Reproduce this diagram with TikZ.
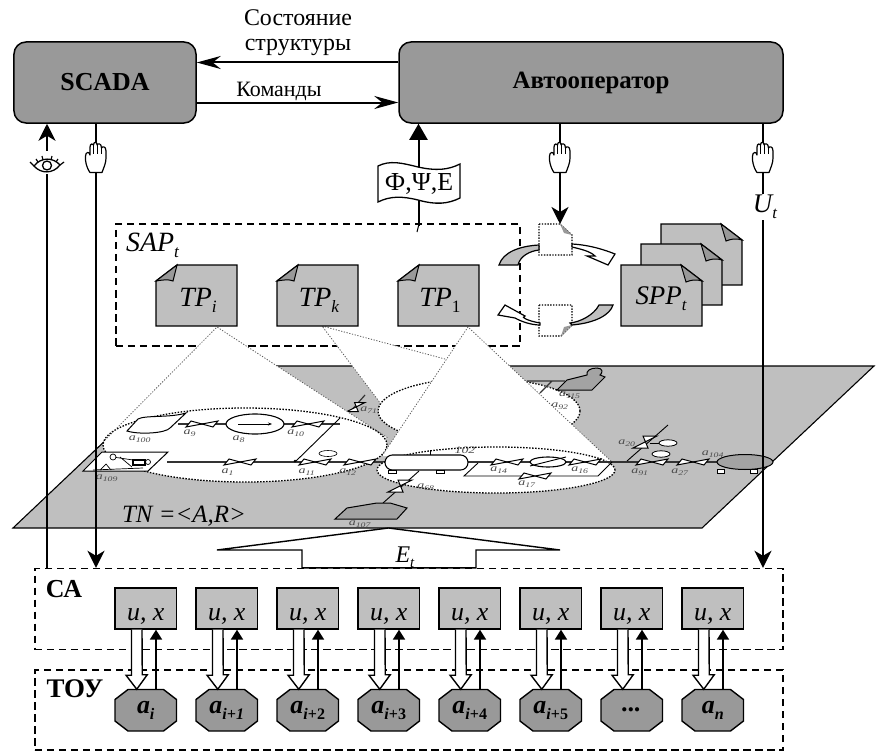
\documentclass[tikz,border=0pt]{standalone}
\usepackage{fontspec}
\setmainfont{Liberation Serif}
\usetikzlibrary{arrows.meta,calc}
\definecolor{boxgray}{gray}{0.6}
\definecolor{lightbox}{gray}{0.75}
\definecolor{tankgray}{gray}{0.64}
\newcommand\fs[1]{\fontsize{#1}{#1}\selectfont}
\newcommand\sbs[2]{#1\raisebox{-.22em}{\scalebox{0.62}{#2}}}
\newcommand\tl[1]{\scalebox{1.4}[1]{a\textsubscript{#1}}}
\tikzset{
 mainbox/.style={draw,line width=1.5bp,fill=boxgray,rounded corners=12bp,inner sep=0pt,font=\fs{25}\bfseries},
 dashbox/.style={draw,line width=1.4bp,dash pattern=on 7.5bp off 4.5bp,inner sep=0pt},
 wire/.style={line width=2bp},
 barb/.style={wire,-{Stealth[length=24bp,width=13bp,inset=8bp]}},
 solidhead/.style={wire,-{Stealth[length=17bp,width=17bp,inset=5bp]}},
 trihead/.style={wire,-{Triangle[length=16bp,width=18bp]}},
 smallhead/.style={wire,-{Triangle[length=10bp,width=12bp]}},
 hollow/.style={line width=1.4bp,fill=white,line join=miter},
 docshape/.style={draw,line width=1.4bp,fill=lightbox,line join=miter},
 foldshape/.style={draw,line width=1bp,fill=boxgray},
 ioshape/.style={draw,line width=1.4bp,fill=lightbox,inner sep=0pt,minimum width=61.5bp,minimum height=41bp},
 octlabel/.style={inner sep=0pt,minimum width=61.5bp,minimum height=41.5bp,font=\fs{26}\bfseries\itshape},
 octline/.style={line width=1.4bp,fill=boxgray,line join=miter},
 conedot/.style={line width=.8bp,draw=black!65,dash pattern=on 1.2bp off 1.6bp},
 elldot/.style={line width=1.3bp,dash pattern=on 1.5bp off 1.5bp,fill=white},
 docdot/.style={line width=1.1bp,dash pattern=on 1.4bp off 1.4bp},
 pipe/.style={line width=1.2bp,black!80},
 tank/.style={draw,line width=1bp,fill=tankgray},
 tinylab/.style={inner sep=0pt,font=\fs{10}\itshape,text=black!70},
 itlab/.style={inner sep=0pt,font=\fs{28}\itshape},
 handpic/.pic={
  \draw[line width=1.2bp,fill=white,line join=round]
   (-6,15.5) -- (6,15.5) .. controls (8,10) and (10,6) .. (10,1) -- (10,-6)
   .. controls (10,-11) and (6,-11) .. (5.5,-9)
   .. controls (5.5,-14) and (1.5,-14) .. (1.2,-12)
   .. controls (1,-15.5) and (-2.5,-15.5) .. (-2.5,-12)
   .. controls (-2.5,-14) and (-6,-13.5) .. (-6,-10) -- (-6,-2)
   .. controls (-6.5,-6) and (-10.5,-5) .. (-10.5,-1) -- (-10.5,3)
   .. controls (-10,8) and (-8,13) .. (-6,15.5) -- cycle;
  \draw[line width=1.1bp] (-2.5,-12)--(-2.5,-3) (1.2,-12)--(1.2,-3) (5.5,-9)--(5.5,-3);
 },
 eyepic/.pic={
  \fill[white] (-18,-13) rectangle (18,10);
  \draw[line width=1.3bp,fill=white] (-13,2) .. controls (-6,-7) and (6,-7) .. (13,1)
     .. controls (6,10) and (-6,10) .. (-13,2) -- cycle;
  \draw[line width=1.3bp] (0,1.5) circle [radius=4.5bp];
  \draw[line width=1.2bp] (-17,-2)--(-13,2) (13,1)--(17,-2) (-11,-5)--(-9,-2) (11,-5)--(9,-2) (-5,-8)--(-4,-4) (5,-8)--(4,-4);
 },
 valvepic/.pic={
  \draw[line width=1bp,fill=white,line join=miter] (-16,3)--(-11,-3)--(11,3)--(16,-3)--cycle;
 },
 vvalvepic/.pic={
  \draw[line width=1bp,fill=white,line join=miter] (-2,-6)--(12,-6)--(-12,6)--(3,6)--cycle;
 },
}
\newcommand\docleft[4]{% name, x1, y1, text
 \draw[docshape] (#2+21,#3) -- (#2+81,#3) -- (#2+81,#3+61) -- (#2,#3+61) -- (#2,#3+16) -- cycle;
 \draw[foldshape] (#2,#3+16) -- (#2+21,#3) -- (#2+17,#3+16) .. controls (#2+12,#3+14) and (#2+6,#3+15) .. (#2,#3+16) -- cycle;
 \node[itlab] (#1) at (#2+42,#3+35) {#4};
}
\newcommand\docright[2]{% x1, y1
 \draw[docshape] (#1,#2) -- (#1+60,#2) -- (#1+81,#2+16) -- (#1+81,#2+61) -- (#1,#2+61) -- cycle;
 \draw[foldshape] (#1+60,#2) -- (#1+81,#2+16) .. controls (#1+75,#2+14) and (#1+70,#2+15) .. (#1+65,#2+17) -- cycle;
}
\begin{document}
\begin{tikzpicture}[x=1bp,y=-1bp]
\useasboundingbox (0,0) rectangle (880,751);
% ---------- plane
\draw[line width=1.1bp,fill=lightbox] (13,528) -- (702,528) -- (874,366) -- (184,366) -- cycle;
% ---------- dashed SAP frame (cones lie over it)
\node[dashbox,minimum width=404bp,minimum height=122bp] (sap) at (318,285) {};
% ---------- cone k + ellipse 2
\fill[white] (322,326) -- (381,404) -- (553,388) -- cycle;
\draw[elldot] (479,411) ellipse [x radius=101bp,y radius=33bp];
\draw[conedot] (381,404) -- (322,326) -- (553,388);
% top right tank group
\draw[pipe] (527,381) -- (565,381) (552,381) -- (540,393);
\draw[tank] (557,390) -- (567,380) -- (587,375) .. controls (586,371) and (590,368) .. (597,368) .. controls (603,368) and (603,373) .. (600,375) -- (605,377) -- (592,390) -- cycle;
\node[tinylab] (la115) at (570,395) {\tl{115}};
\node[tinylab] (la92) at (560,406) {\tl{92}};
% valve a71
\draw[pipe] (365,395) -- (350,412);
\pic[scale=.75] at (356,407) {vvalvepic};
\node[tinylab] (la71) at (369,410) {\tl{71}};
% ---------- cone i + ellipse 1
\fill[white] (217,327) -- (105,440) -- (388,438) -- cycle;
\draw[elldot] (245,445) ellipse [x radius=142bp,y radius=37bp];
\draw[conedot] (105,440) -- (217,327) -- (388,438);
% tank a100
\draw[line width=1bp,fill=white] (127,431) -- (138,419) .. controls (145,415) and (170,418) .. (186,413) -- (170,428) .. controls (166,433) and (140,435) .. (127,431) -- cycle;
\draw[pipe] (178,424) -- (340,424);
\pic at (202,424) {valvepic};
\draw[line width=1.1bp,fill=white] (255,424) ellipse [x radius=29bp,y radius=10bp];
\draw[line width=1bp,-{Stealth[length=4bp,width=3bp]}] (238,424) -- (272,424);
\pic at (308,424) {valvepic};
\draw[line width=.9bp] (340,418) -- (295,462);
\draw[pipe] (167,462) -- (385,462);
\fill (295,461) circle [radius=1.5bp];
\pic at (240,462) {valvepic};
\pic at (315,462) {valvepic};
\pic at (360,462) {valvepic};
\draw[line width=.6bp,fill=white] (328,453.5) ellipse [x radius=9bp,y radius=3bp];
% box a109
\draw[line width=1bp,fill=white] (83,471) -- (148,471) -- (168,452) -- (102,452) -- cycle;
\draw[line width=.7bp] (93,470) -- (143,468) (120,457) -- (132,467) (113,457) -- (133,460) (100,470) -- (106,464) -- (111,470);
\draw[line width=.7bp,fill=white] (113,457) circle [radius=3bp] (148,462) circle [radius=2.5bp];
\draw[line width=1.2bp] (133,460) rectangle (145,465);
\foreach \x/\y/\s in {140/439/100,190/433/9,239/439/8,296/433/10,107/478/109,228/472/1,307/472/11,348/472/12}
  \node[tinylab] (lb\s) at (\x,\y) {\tl{\s}};
% ---------- cone 1 + ellipse 3
\fill[white] (468,327) -- (382,456) -- (612,462) -- cycle;
\draw[elldot] (496,470) ellipse [x radius=119bp,y radius=23bp];
\draw[conedot] (382,456) -- (468,327) -- (612,462);
% main right pipe
\draw[pipe] (468,462) -- (720,462);
\draw[line width=.9bp] (430,450) -- (430,455);
\draw[line width=1.1bp,fill=white,rounded corners=7.4bp] (385,455) rectangle (468,470);
\draw[line width=.8bp,fill=white] (388,470) rectangle (396,473) (436,470) rectangle (444,473);
\pic at (507,462) {valvepic};
\draw[line width=1.1bp,fill=white] (548,462) ellipse [x radius=18bp,y radius=5bp];
\draw[line width=.9bp] (530,466) -- (566,457);
\pic at (585,462) {valvepic};
\pic at (652,462) {valvepic};
\pic at (693,462) {valvepic};
\draw[line width=.9bp] (478,463) -- (464,476) -- (598,476) -- (612,462);
\pic at (535,476) {valvepic};
\node[tinylab] (lc102) at (465,450) {\scalebox{1.4}[1]{102}};
\foreach \x/\y/\s in {499/470/14,580/470/16,527/484/17,640/472/91,680/472/27,713/454/104,627/443/20,426/487/68,360/524/107}
  \node[tinylab] (ld\s) at (\x,\y) {\tl{\s}};
% right tank
\draw[tank] (745,462) ellipse [x radius=28bp,y radius=7.5bp];
\draw[line width=.8bp,fill=white] (717,469) rectangle (724,473) (750,469) rectangle (757,473);
% branch up
\draw[line width=.9bp] (627,461) -- (668,425);
\pic at (645,442) {vvalvepic};
\draw[line width=.7bp] (650,443) -- (660,443);
\draw[line width=.8bp,fill=white] (668,443) ellipse [x radius=9bp,y radius=3.2bp];
\draw[line width=.8bp,fill=white] (661,454) ellipse [x radius=9bp,y radius=3.2bp];
% branch down, tank a107
\draw[line width=.9bp] (419,471) -- (383,503);
\pic at (400,486) {vvalvepic};
\draw[tank] (335,519) -- (347,508) -- (377,503) -- (390,503) -- (407,508) -- (397,519) -- cycle;
% ---------- documents
\docleft{tpi}{156}{265}{\sbs{TP}{i}}
\docleft{tpk}{277}{265}{\sbs{TP}{k}}
\docleft{tpo}{398}{265}{\sbs{TP}{\upshape 1}}
\node[itlab,anchor=west] (saplab) at (126,245) {\sbs{SAP}{t}};
\docright{661}{224}
\docright{641}{244}
\docright{621}{265}
\node[inner sep=0pt,font=\fs{27}\itshape] (spp) at (661,299) {\sbs{SPP}{t}};
% dotted docs
\coordinate (dup) at (560,224);
\draw[docdot,fill=white] (539,224) -- (560,224) -- (572,235) -- (572,255) -- (539,255) -- cycle;
\fill[boxgray] (560,224) -- (572,235) -- (564,233) -- cycle;
\draw[docdot,fill=white] (539,305) -- (572,305) -- (572,325) -- (561,336) -- (539,336) -- cycle;
\fill[boxgray] (572,325) -- (561,336) -- (564,327) -- cycle;
% curved arrows
\draw[line width=1.2bp,fill=lightbox] (539,245) .. controls (520,246) and (503,252) .. (499,265) -- (518,265) .. controls (520,256) and (530,251) .. (539,250) -- cycle;
\draw[line width=1.2bp,fill=white] (572,244) .. controls (590,245) and (605,250) .. (615,254) -- (608,265) -- (587,256) -- (595,256) .. controls (590,251) and (580,249) .. (572,247) -- cycle;
\draw[line width=1.2bp,fill=lightbox] (572,325) .. controls (595,323) and (610,315) .. (613,305) -- (599,305) .. controls (594,315) and (580,322) .. (570,323) -- cycle;
\draw[line width=1.2bp,fill=white] (540,323) .. controls (528,321) and (520,317) .. (525,316) -- (505,305) -- (498,315) -- (515,318) .. controls (522,322) and (532,325) .. (540,325) -- cycle;
% ---------- top boxes
\node[mainbox,minimum width=182bp,minimum height=81bp,font=\fs{26}\bfseries] (scada) at (105,82.5) {SCADA};
\node[mainbox,minimum width=384bp,minimum height=81bp] (auto) at (591,82.5) {Автооператор};
\coordinate (ya) at (0,62.5);
\coordinate (yb) at (0,102.5);
\draw[barb] (auto.west |- ya) -- (scada.east |- ya);
\draw[barb] (scada.east |- yb) -- (auto.west |- yb);
\node[inner sep=0pt,font=\fs{24},align=center] (state) at (298,33) {Состояние\\[1bp]структуры};
\node[inner sep=0pt,font=\fs{22}] (cmd) at (279,91) {Команды};
% ---------- frames
\node[dashbox,minimum width=748bp,minimum height=81bp] (ca) at (409,609) {};
\node[dashbox,minimum width=748bp,minimum height=80bp] (toy) at (409,710) {};
\node[inner sep=0pt,font=\fs{26}\bfseries] (calab) at (64,589) {СА};
\node[inner sep=0pt,font=\fs{27}\bfseries] (toylab) at (75,689) {ТОУ};
% ---------- E_t arrow
\draw[line width=1.4bp,fill=white,line join=miter] (ca.north -| 302,0) -- (302,550) -- (217,550) -- (388.5,528) -- (560,550) -- (476,550) -- (ca.north -| 476,0) -- cycle;
\node[inner sep=0pt,font=\fs{24}\itshape] (et) at (405,557) {\sbs{E}{t}};
% ---------- long connectors
\coordinate (xe) at (47,0);
\coordinate (xh) at (96,0);
\coordinate (xm) at (560,0);
\coordinate (xu) at (763,0);
\coordinate (xf) at (418.5,0);
\draw[solidhead] (ca.north -| xe) -- (scada.south -| xe);
\draw[solidhead] (scada.south -| xh) -- (ca.north -| xh);
\draw[solidhead] (auto.south -| xu) -- (ca.north -| xu);
\draw[solidhead] (auto.south -| xm) -- (dup -| xm);
\pic at (47,164) {eyepic};
\pic at (96,157) {handpic};
\pic at (560,157) {handpic};
\pic at (763,157) {handpic};
\node[fill=white,inner sep=1pt,font=\fs{27}\itshape] (ut) at (765,207) {\sbs{U}{t}};
% flag
\coordinate (flagbot) at (418.5,226);
\draw[trihead] (flagbot) -- (auto.south -| xf);
\draw[line width=1bp] (418.5,226) -- (417,232);
\draw[line width=1.3bp,fill=white] (378,166) .. controls (390,160) and (402,163) .. (418,167) .. controls (436,171) and (448,170) .. (460,164) -- (460,198) .. controls (448,204) and (436,205) .. (418,200) .. controls (402,196) and (390,196) .. (378,202) -- cycle;
\node[inner sep=0pt,font=\fs{26}] (flag) at (419,184) {Ф,Ψ,Е};
\node[inner sep=0pt,font=\fs{25}\itshape] (tn) at (184,516) {TN =<A,R>};
% ---------- bottom rows
\foreach \i/\t in {0/{\sbs{a}{i}},1/{\sbs{a}{i+1}},2/{\sbs{a}{\textit{i}\upshape+2}},3/{\sbs{a}{\textit{i}\upshape+3}},4/{\sbs{a}{\textit{i}\upshape+4}},5/{\sbs{a}{\textit{i}\upshape+5}},6/{...},7/{\sbs{a}{n}}}{
  \pgfmathsetmacro\L{115+81*\i}
  \node[ioshape] (u\i) at (\L+30.75,608.5) {};
  \node[inner sep=0pt,font=\fs{26}\itshape] (ux\i) at (\L+30.75,617) {u, x};
  \draw[octline] (\L+13,689.5) -- (\L+48.5,689.5) -- (\L+61.5,699.5) -- (\L+61.5,721) -- (\L+48.5,731) -- (\L+13,731) -- (\L,721) -- (\L,699.5) -- cycle;
  \node[octlabel] (o\i) at (\L+30.75,710.2) {\t};
  \draw[hollow] ([xshift=-14.25bp]u\i.south) -- ++(0,45.5) -- ++(-5.5,0) -- ([xshift=-9bp]o\i.north) -- ++(10.5,-14.5) -- ++(-5,0) -- ([xshift=-3.75bp]u\i.south);
  \draw[smallhead] ([xshift=10.25bp]o\i.north) -- ([xshift=10.25bp]u\i.south);
}
\end{tikzpicture}
\end{document}
